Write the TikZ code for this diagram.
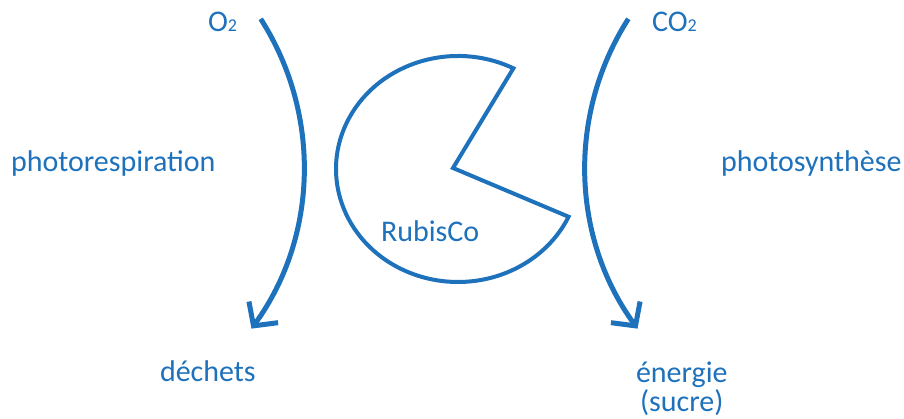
\documentclass[tikz,border=0pt]{standalone}
\usepackage{fontspec}
\setmainfont{Carlito}
\usetikzlibrary{arrows.meta,calc}
\definecolor{rblue}{RGB}{30,113,187}
\newcommand\subtwo[1]{{\fontsize{18}{18}\selectfont #1}}
\begin{document}
\begin{tikzpicture}[x=1pt,y=1pt,
  lbl/.style={text=rblue, inner sep=0pt, outer sep=0pt, font=\fontsize{30}{30}\selectfont, anchor=base west},
  flow/.style={draw=rblue, line width=5pt, -{Straight Barb[length=17pt,width=36pt]}},
  enzyme/.style={draw=rblue, line width=4pt, line join=miter}]
\useasboundingbox (0,0) rectangle (904,419);
% labels
\node[lbl] (o2) at (208,387) {O\subtwo{2}};
\node[lbl] (co2) at (652,387) {CO\subtwo{2}};
\node[lbl] (photoresp) at (11,247) {photorespiration};
\node[lbl] (photosyn) at (721,247) {photosynthèse};
\node[lbl] (rubisco) at (381,177) {RubisCo};
\node[lbl] (dechets) at (160,37) {déchets};
\node[lbl] (energie) at (636,36) {énergie};
\node[lbl] (sucre) at (640,7) {(sucre)};
% enzyme (pac-man shape)
\coordinate (ec) at (458,250);
\coordinate (apex) at (453,251);
\draw[enzyme] (apex) -- ($(ec)+(63:122 and 113)$)
  arc[start angle=63, end angle=335, x radius=122, y radius=113] -- cycle;
% curved arrows
\coordinate (lc) at (29,252);
\coordinate (rc) at (860,252);
\coordinate (ls) at ($(lc)+(32.6:275)$);
\coordinate (rs) at ($(rc)+(147.4:275)$);
\draw[flow] (ls) arc[start angle=32.6, end angle=-36, radius=275];
\draw[flow] (rs) arc[start angle=147.4, end angle=216, radius=275];
\end{tikzpicture}
\end{document}
